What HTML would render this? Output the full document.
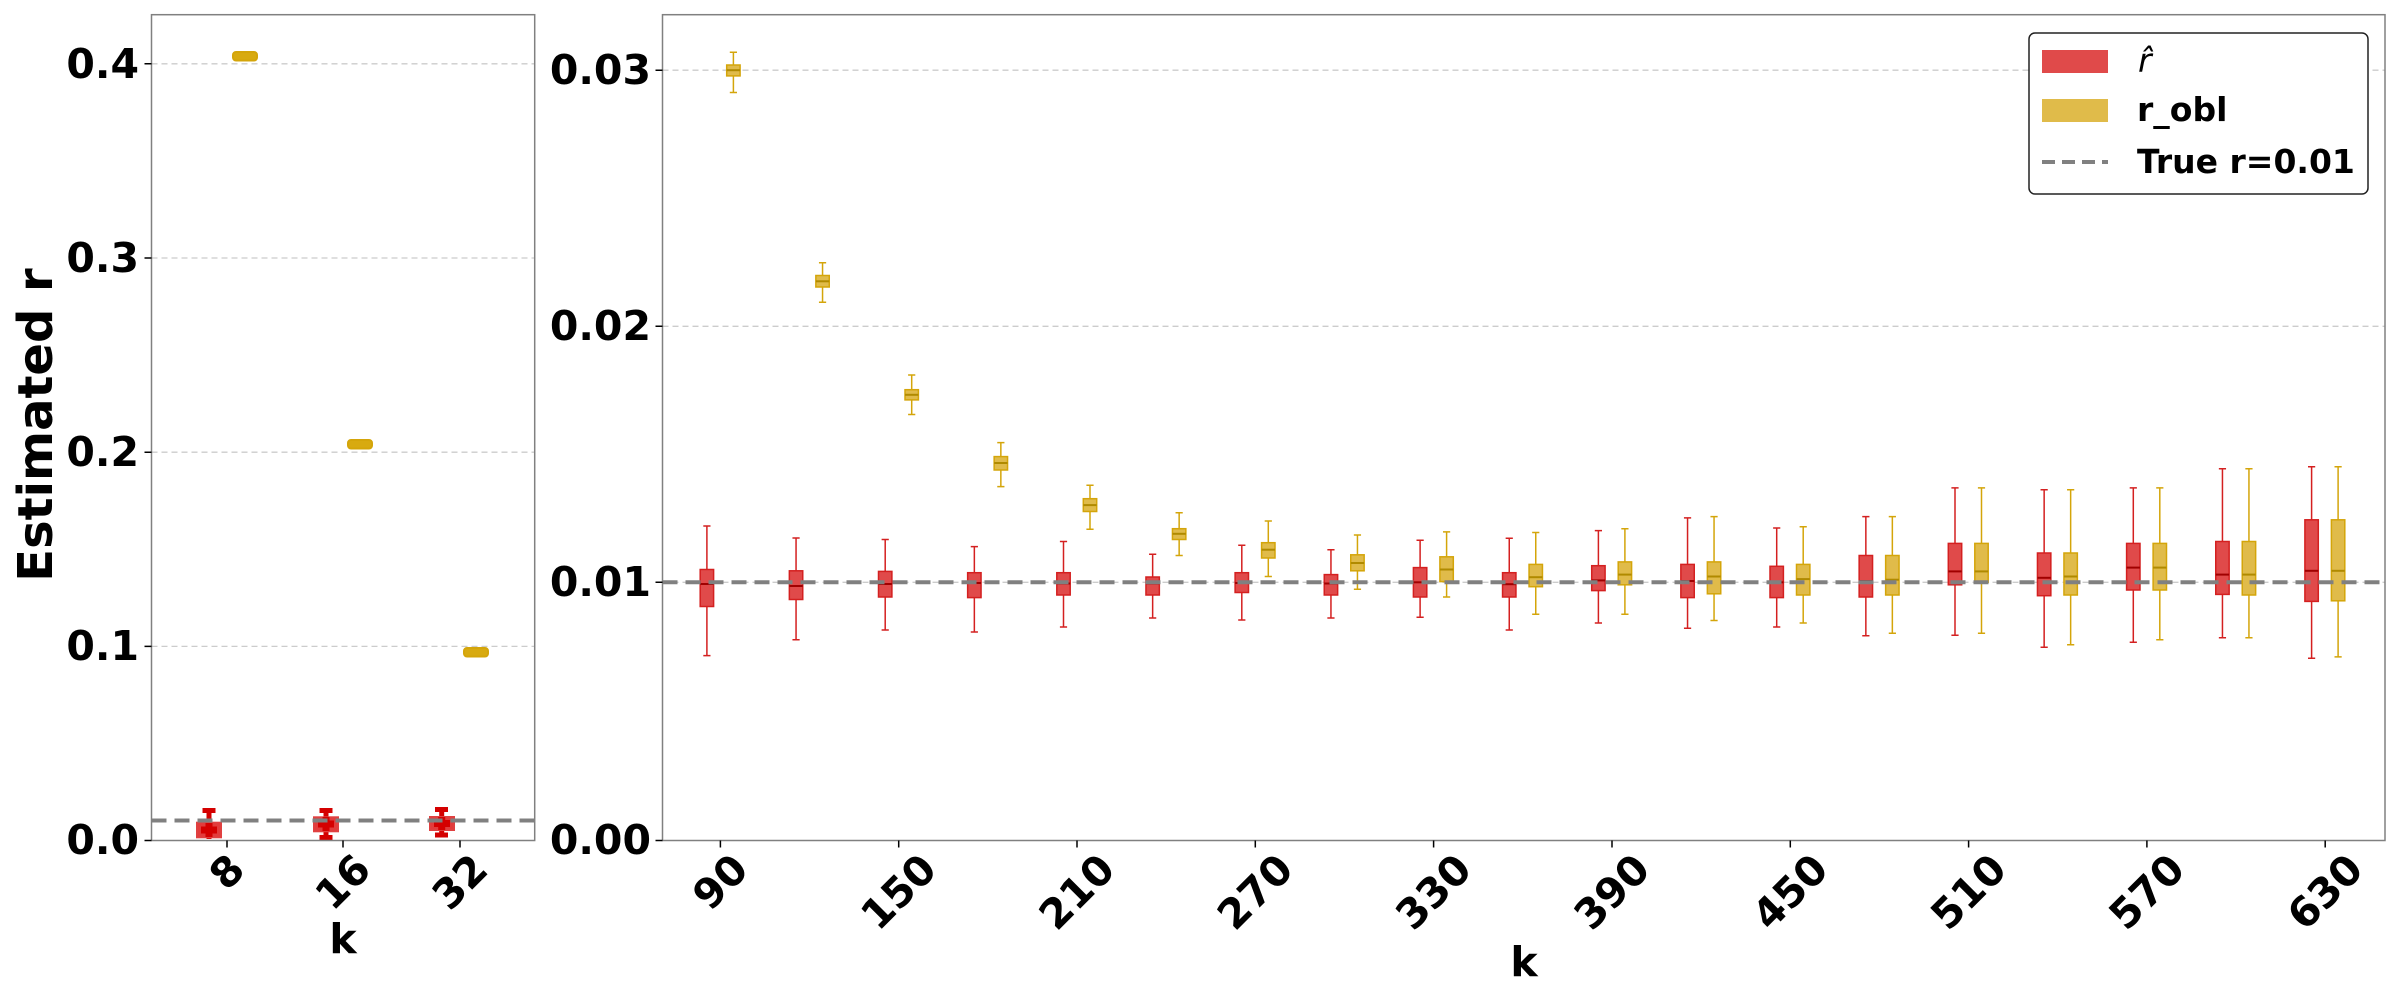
<!DOCTYPE html>
<html><head><meta charset="utf-8"><style>
html,body{margin:0;padding:0;background:#fff;}
svg{display:block;font-family:"DejaVu Sans","Liberation Sans",sans-serif;font-weight:bold;}
</style></head><body>
<svg id="s" width="2400" height="1000" viewBox="0 0 2400 1000" xmlns="http://www.w3.org/2000/svg">
<rect width="2400" height="1000" fill="#fff"/>
<g stroke="#cccccc" stroke-width="1.3" stroke-dasharray="6,4">
<line x1="151.5" x2="534.7" y1="63.8" y2="63.8"/>
<line x1="151.5" x2="534.7" y1="258" y2="258"/>
<line x1="151.5" x2="534.7" y1="452.2" y2="452.2"/>
<line x1="151.5" x2="534.7" y1="646.4" y2="646.4"/>
<line x1="662.5" x2="2385" y1="70.2" y2="70.2"/>
<line x1="662.5" x2="2385" y1="326.3" y2="326.3"/>
<line x1="662.5" x2="2385" y1="582.3" y2="582.3"/>
</g>
<g id="boxes"></g>
<g>
<path d="M202.5,810.5h13M209,810.5V823M209,837V839" stroke="#d40000" stroke-width="5" fill="none"/>
<rect x="197" y="822.7" width="24" height="14.6" fill="#e23c3c" stroke="#e04040" stroke-width="2"/>
<path d="M201,830h16M209,823v14" stroke="#d40000" stroke-width="7"/>
<path d="M319.5,810.5h13M326,810.5V817M326,831V837.5M319.5,837.5h13" stroke="#d40000" stroke-width="5" fill="none"/>
<rect x="314" y="817.3" width="24" height="14" fill="#e23c3c" stroke="#e04040" stroke-width="2"/>
<path d="M318,824h16M326,817v14" stroke="#d40000" stroke-width="7"/>
<path d="M435,809.5h13M441.7,809.5V817M441.7,830V835M435,835h13" stroke="#d40000" stroke-width="5" fill="none"/>
<rect x="430" y="817" width="24" height="13" fill="#e23c3c" stroke="#e04040" stroke-width="2"/>
<path d="M434,823.5h16M441.7,817v13" stroke="#d40000" stroke-width="7"/>
<rect x="233" y="52" width="24" height="8.5" rx="3" fill="#d8aa10" stroke="#d4a50a" stroke-width="2"/>
<rect x="348" y="440" width="24" height="8.5" rx="3" fill="#d8aa10" stroke="#d4a50a" stroke-width="2"/>
<rect x="464" y="648" width="24" height="8.5" rx="3" fill="#d8aa10" stroke="#d4a50a" stroke-width="2"/>
</g>
<line x1="151.5" x2="534.7" y1="820.5" y2="820.5" stroke="#808080" stroke-width="4" stroke-dasharray="15,8"/>
<line x1="662.5" x2="2385" y1="582.3" y2="582.3" stroke="#808080" stroke-width="4" stroke-dasharray="15,8"/>
<rect x="151.5" y="14.7" width="383.2" height="825.8" fill="none" stroke="#808080" stroke-width="1.5"/>
<rect x="662.5" y="14.7" width="1722.5" height="825.8" fill="none" stroke="#808080" stroke-width="1.5"/>
<g stroke="#000" stroke-width="1.5">
<path d="M151.5,63.8h-7M151.5,258h-7M151.5,452.2h-7M151.5,646.4h-7M151.5,840.5h-7"/>
<path d="M662.5,70.2h-7M662.5,326.3h-7M662.5,582.3h-7M662.5,840.5h-7"/>
<path d="M227,840.5v7M343,840.5v7M460,840.5v7"/>
<path d="M720.4,840.5v7M898.7,840.5v7M1077,840.5v7M1255.3,840.5v7M1433.6,840.5v7M1612,840.5v7M1790.3,840.5v7M1968.6,840.5v7M2146.9,840.5v7M2325.2,840.5v7"/>
</g>
<g font-size="41" text-anchor="end" dominant-baseline="central" fill="#000">
<text x="139" y="64">0.4</text>
<text x="139" y="258">0.3</text>
<text x="139" y="452">0.2</text>
<text x="139" y="646">0.1</text>
<text x="139" y="840">0.0</text>
<text x="651" y="70">0.03</text>
<text x="651" y="326">0.02</text>
<text x="651" y="582">0.01</text>
<text x="651" y="840">0.00</text>
</g>
<g font-size="41" text-anchor="middle" dominant-baseline="central" fill="#000">
<text x="227" y="872" transform="rotate(-45 227 872)">8</text>
<text x="343" y="882" transform="rotate(-45 343 882)">16</text>
<text x="460" y="882" transform="rotate(-45 460 882)">32</text>
<text x="720.4" y="882" transform="rotate(-45 720.4 882)">90</text>
<text x="898.7" y="892" transform="rotate(-45 898.7 892)">150</text>
<text x="1077" y="892" transform="rotate(-45 1077 892)">210</text>
<text x="1255.3" y="892" transform="rotate(-45 1255.3 892)">270</text>
<text x="1433.6" y="892" transform="rotate(-45 1433.6 892)">330</text>
<text x="1612" y="892" transform="rotate(-45 1612 892)">390</text>
<text x="1790.3" y="892" transform="rotate(-45 1790.3 892)">450</text>
<text x="1968.6" y="892" transform="rotate(-45 1968.6 892)">510</text>
<text x="2146.9" y="892" transform="rotate(-45 2146.9 892)">570</text>
<text x="2325.2" y="892" transform="rotate(-45 2325.2 892)">630</text>
</g>
<text x="343" y="953" font-size="41" text-anchor="middle">k</text>
<text x="1524" y="976" font-size="41" text-anchor="middle">k</text>
<text x="0" y="0" font-size="48" text-anchor="middle" transform="translate(52 425) rotate(-90)">Estimated r</text>
<rect x="2029" y="33" width="339" height="161" rx="6" fill="#fff" stroke="#222" stroke-width="1.5"/>
<rect x="2042" y="50" width="66" height="23" fill="#e04a4a"/>
<rect x="2042" y="99" width="66" height="23" fill="#e0bb4a"/>
<line x1="2042" x2="2108" y1="162" y2="162" stroke="#808080" stroke-width="4" stroke-dasharray="13,7"/>
<text x="2138" y="72" font-size="33" font-style="italic" font-weight="normal">r&#770;</text>
<text x="2137" y="121" font-size="33">r_obl</text>
<text x="2137" y="173" font-size="33">True r=0.01</text>
</svg>
<script>
var R=[[526,569.5,584,606.5,655.6],[538,570.8,586,599.5,639.7],[539.5,571.4,584,597,630],[546.6,572.7,583,597.6,632],[541.5,572.7,583.5,595,627],[554.2,577,583.5,595,618],[545.3,572.7,583,592.5,620],[549.7,574.6,583.5,595,618],[540.2,567.6,582.3,597,617.3],[538.3,572.7,584.2,597,630],[530.6,565.7,580.4,590.6,623],[517.9,564.4,581,597.6,628.2],[528,566.3,582.3,597.6,627],[516.6,555.5,581,597,635.8],[487.9,543.4,571.4,584.8,635.2],[489.8,553,577.8,595.7,647.3],[487.9,543.4,567.6,590,642.2],[468.8,541.5,574.6,594.4,637.8],[466.8,519.8,570.8,601.4,658.2]];
var Y=[[52.3,65,70.2,75.9,92.5],[262.8,275.5,281.3,287,302.3],[375,389.7,394.8,399.9,414.5],[442.6,456.6,463,470,486.6],[485.3,498.7,505.1,511.5,529.3],[512.8,528.7,533.8,539.5,555.5],[521,542.7,549.7,558,576.5],[535,554.8,563,570.8,589.3],[531.9,556.8,569.5,581.6,597],[532.5,564.4,577.2,586.7,614.2],[528.7,561.9,574.6,584.8,614.2],[516.6,561.9,576.5,593.8,620.5],[526.8,564.4,579.1,595,623],[516.6,555.5,579.7,595,633.3],[487.9,543.4,571.4,582.3,633.3],[489.8,553,576.5,595,644.8],[487.9,543.4,567.6,590,639.7],[468.8,541.5,574.6,595,637.8],[466.8,519.8,570.8,600.8,656.9]];
var g=document.getElementById('boxes'),h='';
function box(cx,d,fill,edge,med){var w=6.7,c=3.6;
h+='<path d="M'+cx+','+d[0]+'V'+d[1]+'M'+cx+','+d[3]+'V'+d[4]+'M'+(cx-c)+','+d[0]+'h'+(2*c)+'M'+(cx-c)+','+d[4]+'h'+(2*c)+'" stroke="'+edge+'" stroke-width="1.5" fill="none"/>';
h+='<rect x="'+(cx-w)+'" y="'+d[1]+'" width="'+(2*w)+'" height="'+(d[3]-d[1])+'" fill="'+fill+'" stroke="'+edge+'" stroke-width="1.5"/>';
h+='<path d="M'+(cx-w)+','+d[2]+'h'+(2*w)+'" stroke="'+med+'" stroke-width="2"/>';}
for(var i=0;i<19;i++){var cx=720.4+i*89.15;box(cx-13.5,R[i],'#e04a4a','#d42020','#a00000');box(cx+13,Y[i],'#e0bb4a','#d4a50a','#b08a00');}
g.innerHTML=h;
</script>
</body></html>
